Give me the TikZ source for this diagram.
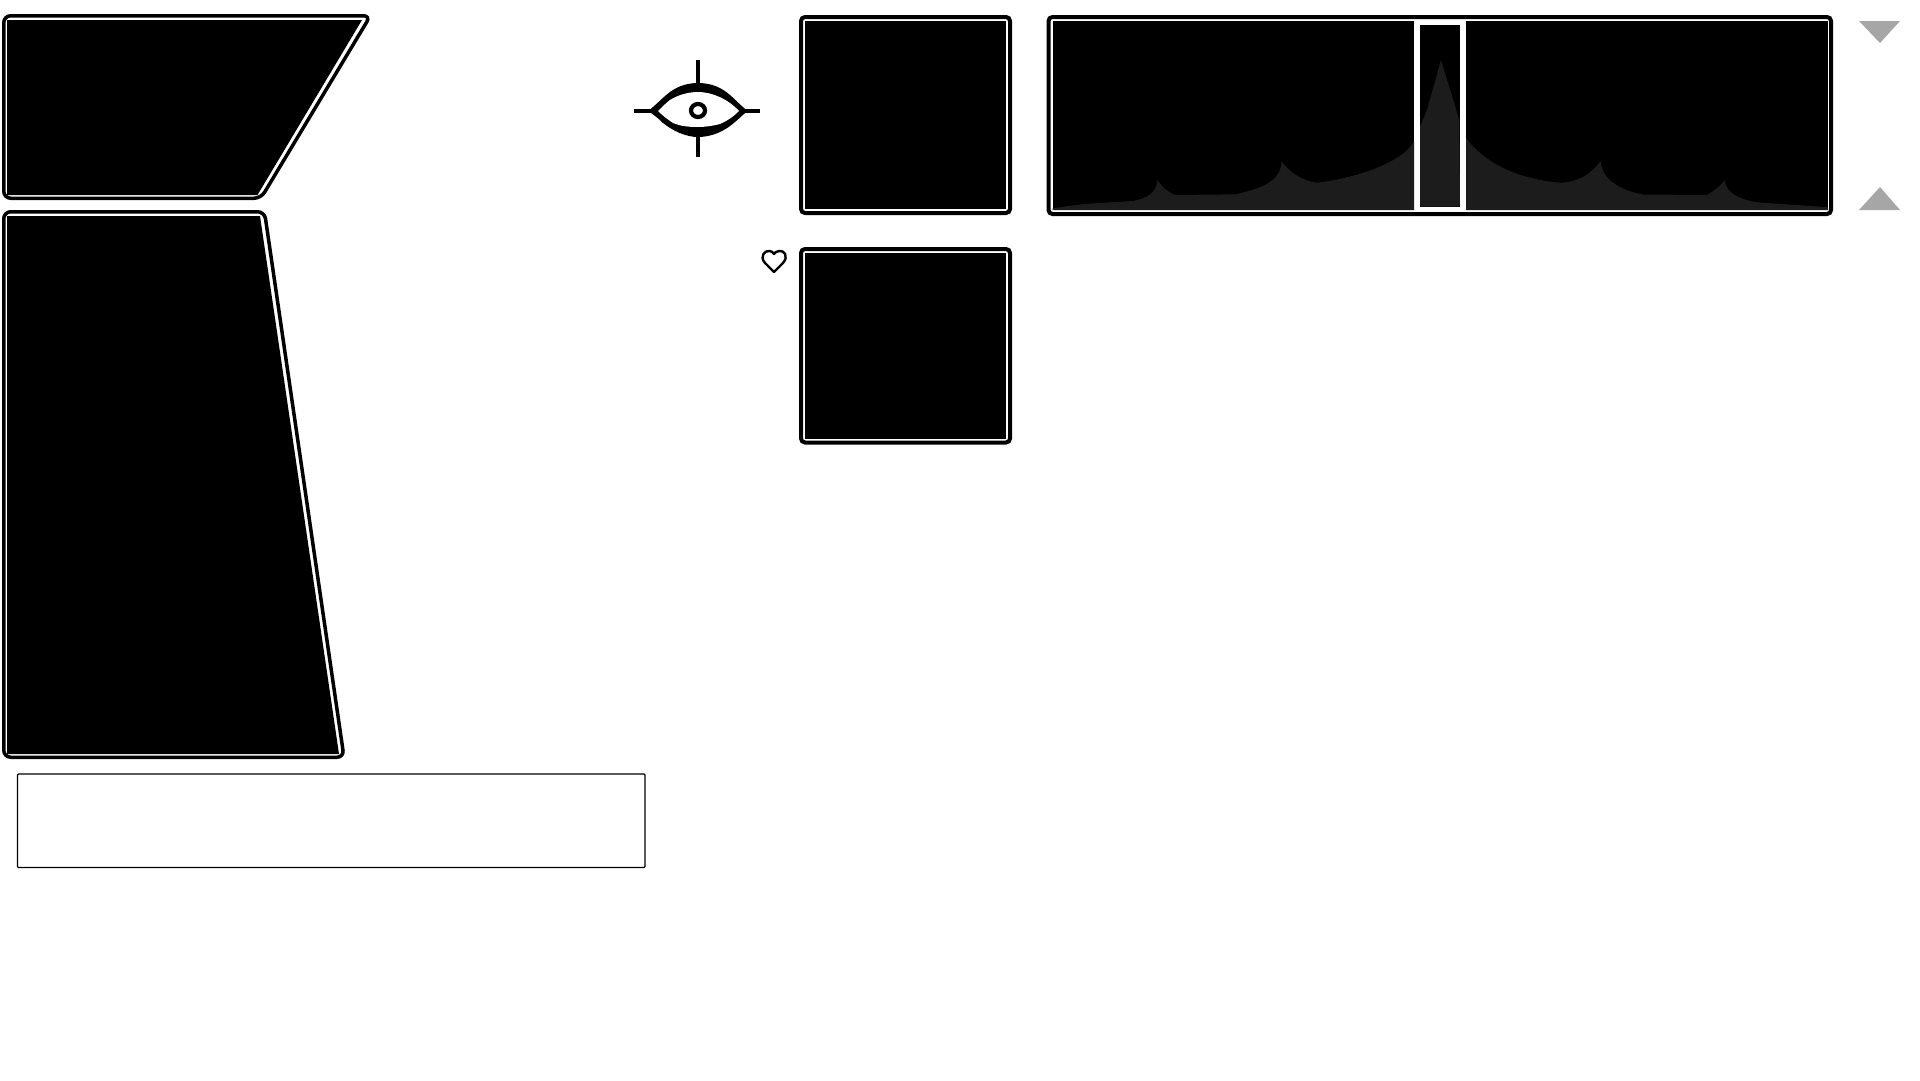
\documentclass[tikz,border=0pt]{standalone}
\usetikzlibrary{positioning}
\definecolor{histgray}{HTML}{1C1C1C}
\definecolor{arrowgray}{HTML}{A6A6A6}
\tikzset{
  frame/.style={draw=black,fill=white,line width=3.5pt,rounded corners=7pt},
  thickframe/.style={draw=black,fill=white,line width=4pt,rounded corners=4pt},
  hist/.style={fill=histgray},
  turn/.style={fill=arrowgray}
}
\begin{document}
\begin{tikzpicture}[x=1pt,y=-1pt]
\useasboundingbox (0,0) rectangle (1920,1080);
% left panels
\draw[frame] (3.75,15.75) -- (370.5,15.75) -- (261,198.25) -- (3.75,198.25) -- cycle;
\fill (7,20) -- (362,20) -- (257.5,195) -- (7,195) -- cycle;
\draw[frame] (3.75,211.75) -- (264.5,211.75) -- (344,757.25) -- (3.75,757.25) -- cycle;
\fill (7,216) -- (260,216) -- (339,754) -- (7,754) -- cycle;
\draw[line width=1.3pt,rounded corners=1pt] (17.5,774) rectangle (645,867.5);
% eye
\draw[line width=3.6pt] (698,60) -- (698,157);
\draw[line width=3.6pt] (634,111) -- (760,111);
\fill (648,111) .. controls (655,106) and (662,98) .. (670,92)
  .. controls (678,86) and (688,83) .. (698,83)
  .. controls (712,83) and (722,88) .. (730,95)
  .. controls (737,101) and (742,107) .. (748,111)
  .. controls (742,115) and (740,118) .. (735,122)
  .. controls (725,131) and (712,137) .. (698,137)
  .. controls (686,137) and (673,131) .. (663,123)
  .. controls (658,118) and (654,115) .. (648,111) -- cycle;
\fill[white] (658,111) .. controls (662,107) and (666,103) .. (670,100)
  .. controls (678,95) and (688,92) .. (698,92)
  .. controls (712,92) and (728,99) .. (739,111)
  .. controls (733,117) and (727,121) .. (720,124)
  .. controls (712,126) and (705,127) .. (698,127)
  .. controls (688,127) and (680,126) .. (673,123)
  .. controls (667,119) and (662,115) .. (658,111) -- cycle;
\draw[line width=4.2pt] (698,110.5) ellipse[x radius=7,y radius=6.5];
% heart
\draw[line width=2.4pt,line join=round] (774,272) -- (765,263)
  .. controls (759,256) and (765,250) .. (770,251)
  .. controls (772,251) and (773,253) .. (774,254)
  .. controls (775,253) and (776,251) .. (779,251)
  .. controls (784,250) and (789,256) .. (783,263) -- cycle;
% squares
\foreach \ytop/\ybot in {17/213,249/442.5} {
  \draw[thickframe] (801,\ytop) rectangle (1010,\ybot);
  \fill (805,\ytop+4) rectangle (1006,\ybot-4);
}
% histogram strip
\draw[thickframe] (1048.5,17) rectangle (1831,214);
\fill (1052.7,20.7) rectangle (1414,210);
\fill (1466,20.7) rectangle (1828,210);
\fill (1420,25) rectangle (1460,206.7);
\fill[hist] (1052.7,210) -- (1052.7,208.3) -- (1083,204) -- (1133,201)
  .. controls (1148,198) and (1157,192) .. (1157.3,180)
  .. controls (1162,187) and (1168,192) .. (1175,195) -- (1236,194.3)
  .. controls (1255,189) and (1280,185) .. (1281.7,161.7)
  .. controls (1290,172) and (1300,180) .. (1316.7,182.7)
  .. controls (1350,179) and (1400,165) .. (1414,141.7)
  -- (1414,210) -- cycle;
\fill[hist] (1420,206.7) -- (1420,126.7) -- (1427,110) -- (1441,60) -- (1459.3,120)
  -- (1460,206.7) -- cycle;
\fill[hist] (1466,210) -- (1466,138)
  .. controls (1490,170) and (1530,180) .. (1560,182.7)
  .. controls (1578,182) and (1590,175) .. (1600.7,161)
  .. controls (1602,180) and (1620,190) .. (1643,194.5) -- (1706.7,195)
  .. controls (1713,192) and (1720,186) .. (1725,180)
  .. controls (1725,195) and (1745,201) .. (1760,202.5)
  -- (1796.7,205) -- (1828,207.3) -- (1828,210) -- cycle;
% arrows
\fill[turn] (1859,21) -- (1900,21) -- (1880,43) -- cycle;
\fill[turn] (1859,210) -- (1900,210) -- (1880,187) -- cycle;
\end{tikzpicture}
\end{document}
